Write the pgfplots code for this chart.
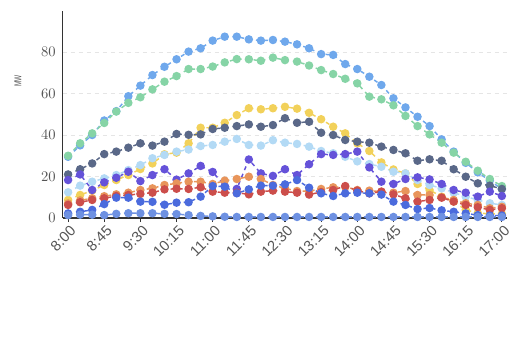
\documentclass[border=0pt]{standalone}
\usepackage{pgfplots}
\usepackage{pgfplotstable}
\pgfplotsset{compat=1.18}
\usepackage{fontspec}
\setmainfont{Liberation Sans}
\definecolor{cA}{HTML}{6FA8EC}
\definecolor{cG}{HTML}{86D4A6}
\definecolor{cY}{HTML}{F2D15A}
\definecolor{cD}{HTML}{5A6888}
\definecolor{cL}{HTML}{B3DAF5}
\definecolor{cP}{HTML}{6552D9}
\definecolor{cO}{HTML}{E8955B}
\definecolor{cR}{HTML}{CC4E4B}
\definecolor{cB}{HTML}{4B6BDD}
\definecolor{cZ}{HTML}{6E91E2}
\definecolor{labgray}{HTML}{555555}
\pgfplotstableread{
i A G Y D L P O R B Z
0 29.5 30 8.7 21 12.4 18.3 7 6.3 2.2 1.4
1 35 36 11.1 23.5 15.6 21 8.5 7.6 3 1.6
2 40 40.8 13.2 26.3 17.5 13.5 9.5 8.7 3.9 1.6
3 47 45.8 15.9 30.8 19.1 17.2 10.5 9.5 6.7 1.4
4 51.5 51.3 18.3 32 20.7 19.4 11.4 10.6 9.8 2
5 58.7 55.5 20.7 33.9 23.1 22.3 12.2 11.1 9.8 2.3
6 63.8 58.2 23.6 36 25.5 17.8 13.5 11.6 7.9 2.3
7 68.9 62 26.3 34.9 28.8 20.7 14.3 12.2 7.8 2.3
8 72.9 65.7 30.7 36.8 30.4 23.5 15.9 13.8 6.4 2
9 76.5 68.4 31.5 40.5 32 18.5 16.7 14.1 7.4 1.9
10 80.2 71.8 36 40.1 33 21.5 17.5 14 7.6 1.4
11 81.8 71.8 43.5 40.3 34.7 25.1 17.5 14.8 10.3 1
12 85.5 73 43.5 42.9 35.2 22.2 16.4 12.7 15.4 0.8
13 87.4 75 45.9 43.5 36.8 15.5 18 12.2 15.1 0.6
14 87.4 76.6 49.6 44.3 38.1 14 18.8 12.2 11.9 0.5
15 86.1 76.5 52.9 45.1 35.2 28.2 19.9 11.4 13.8 0.5
16 85.5 75.8 52.4 44 34.9 21.5 18.8 12.7 15.6 0.5
17 85.8 77.3 52.9 44.8 37.5 20.3 15.9 13.2 15.6 0.5
18 85 76.1 53.6 48.1 36.3 23.5 14.3 12.7 16.2 0.5
19 83.7 75.4 52.7 45.9 35.7 20.7 13 12.2 18.3 0.5
20 81.8 73.5 50.7 46.4 34.4 25.9 13 11.3 14.6 0.5
21 79 71.3 47.6 41.1 32.3 30.8 14 12.5 11.9 0.5
22 78.6 69.4 44 40 31.2 30.4 14.8 13.5 10.6 0.5
23 74.2 67.1 40.8 37.6 29.5 30.8 15 15.4 11.9 0.5
24 71.8 64.9 36 36.8 27.3 32 13.5 13.2 12.2 0.5
25 68.1 58.5 32.3 36.3 26 24.4 13.2 11.9 11.9 0.5
26 64.1 57.2 26.8 34.4 24.7 17.5 12.7 12.7 11.3 0.5
27 57.7 54.3 23.4 32.8 22.3 16.4 12.2 11.4 7.9 0.5
28 53.3 49.2 21.5 31.2 21.5 18.8 13 9.5 6.3 0.5
29 48.8 44.3 16.4 27.6 18.3 19.6 11.1 7.9 4.3 0.5
30 44.3 40.3 13.5 28.3 15.9 18.6 11.1 8.7 4.8 0.5
31 37.9 36.3 10.3 27.6 14.3 16.4 10 9.8 3.7 0.5
32 32 31.5 7.9 23.5 12.2 13.5 8.7 7.9 3 0.5
33 26.6 27.1 3.9 19.9 10.3 12.2 7.1 6.3 2.2 0.5
34 22 22.8 2.4 16.7 8.7 10.3 6.3 5.2 1.4 0.5
35 18 18.8 2 15.6 7.1 12.7 4.7 3.9 1.2 0.5
36 14 15.4 2 14 6.3 10.6 5.4 4.7 1.2 0.5
}\data
\begin{document}
\begin{tikzpicture}
\path[use as bounding box] (0,0) rectangle (393.75pt,265.5pt);
\begin{axis}[
  at={(47pt,102pt)}, anchor=south west,
  scale only axis, width=333.2pt, height=155.6pt,
  xmin=-0.45, xmax=36.42, ymin=0, ymax=100,
  axis lines=left, axis line style={-, draw=black!80, line width=0.9pt},
  clip=false,
  xtick={0,3,...,36},
  xticklabels={8:00,8:45,9:30,10:15,11:00,11:45,12:30,13:15,14:00,14:45,15:30,16:15,17:00},
  ytick={0,20,40,60,80},
  tick align=outside,
  major tick length=3pt,
  xtick style={draw=black!80, line width=0.8pt},
  ytick style={draw=none},
  ymajorgrids, grid style={dashed, draw=black!10, line width=0.6pt},
  tick label style={font=\fontsize{11}{12}\selectfont, text=labgray},
  xticklabel style={rotate=45, anchor=north east, inner sep=0.5pt, yshift=-1.5pt},
  yticklabel style={inner sep=2pt},
  ylabel={\scalebox{0.65}[1]{MW}},
  ylabel style={at={(axis description cs:-0.1005,0.66)}, anchor=center, font=\fontsize{7.5}{9}\selectfont, text=labgray},
  every axis plot/.append style={line width=1.1pt, dashed, mark=*, mark size=2.6pt, mark options={solid}},
]
\addplot[color=cA] table[x=i,y=A]{\data};
\addplot[color=cG] table[x=i,y=G]{\data};
\addplot[color=cY] table[x=i,y=Y]{\data};
\addplot[color=cD] table[x=i,y=D]{\data};
\addplot[color=cL] table[x=i,y=L]{\data};
\addplot[color=cP] table[x=i,y=P]{\data};
\addplot[color=cO] table[x=i,y=O]{\data};
\addplot[color=cR] table[x=i,y=R]{\data};
\addplot[color=cB] table[x=i,y=B]{\data};
\addplot[color=cZ] table[x=i,y=Z]{\data};
\end{axis}
\end{tikzpicture}
\end{document}
